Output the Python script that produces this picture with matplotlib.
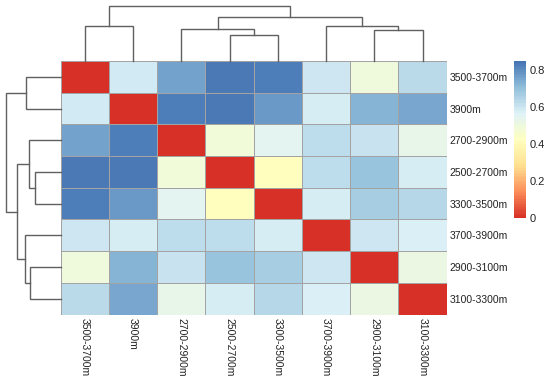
import numpy as np
import matplotlib
matplotlib.use("Agg")
import matplotlib.pyplot as plt
from matplotlib.colors import LinearSegmentedColormap, Normalize
from matplotlib.cm import ScalarMappable

plt.rcParams['font.family'] = ['Liberation Sans', 'DejaVu Sans']

# order as drawn (rows and columns share the same order)
labels = ["3500-3700m", "3900m", "2700-2900m", "2500-2700m",
          "3300-3500m", "3700-3900m", "2900-3100m", "3100-3300m"]

dist = [
    [0.00, 0.59, 0.76, 0.84, 0.83, 0.60, 0.50, 0.635],
    [0.59, 0.00, 0.826, 0.84, 0.777, 0.58, 0.723, 0.748],
    [0.76, 0.826, 0.00, 0.493, 0.544, 0.628, 0.61, 0.53],
    [0.84, 0.84, 0.493, 0.00, 0.42, 0.624, 0.695, 0.58],
    [0.83, 0.777, 0.544, 0.42, 0.00, 0.586, 0.668, 0.643],
    [0.60, 0.58, 0.628, 0.624, 0.586, 0.00, 0.60, 0.574],
    [0.50, 0.723, 0.61, 0.695, 0.668, 0.60, 0.00, 0.512],
    [0.635, 0.748, 0.53, 0.58, 0.643, 0.574, 0.512, 0.00],
]

# tree merges: (child a, child b, height); ids >= 8 are earlier merges
merges = [
    (3, 4, 0.467),      # 8
    (6, 7, 0.565),      # 9
    (2, 8, 0.578),      # 10
    (0, 1, 0.640),      # 11
    (5, 9, 0.645),      # 12
    (10, 12, 0.805),    # 13
    (11, 13, 1.000),    # 14
]

cbar_ticks = [0, 0.2, 0.4, 0.6, 0.8]
cbar_labels = ["0", "0.2", "0.4", "0.6", "0.8"]
vmin, vmax = 0.0, 0.85

pal = ["#D73027", "#FC8D59", "#FEE090", "#FFFFBF", "#E0F3F8", "#91BFDB", "#4575B4"]
cmap = LinearSegmentedColormap.from_list("rdylbu", pal, N=100)

W, H = 550, 381
fig = plt.figure(figsize=(W / 100, H / 100), dpi=100)


def fx(px):
    return px / W


def fy(py):
    return 1 - py / H


hm_l, hm_r, hm_t, hm_b = 60.7, 446.7, 61, 314.5
ax = fig.add_axes([fx(hm_l), fy(hm_b), fx(hm_r - hm_l), (hm_b - hm_t) / H])
data = np.array(dist)
n = len(labels)
ax.pcolormesh(np.arange(n + 1), np.arange(n + 1), data, cmap=cmap,
              vmin=vmin, vmax=vmax, edgecolors="#a3a3a3", linewidth=0.45)
ax.set_xlim(0, n)
ax.set_ylim(n, 0)
for s in ax.spines.values():
    s.set_visible(False)
ax.set_xticks(np.arange(n) + 0.5)
ax.set_xticklabels(labels, rotation=270, fontsize=7.5, color="#222222")
ax.set_yticks(np.arange(n) + 0.5)
ax.set_yticklabels(labels, fontsize=7.5, color="#222222")
ax.yaxis.tick_right()
ax.tick_params(axis="x", length=0, pad=2.5)
ax.tick_params(axis="y", length=0, pad=2)


def tree_lines(merges, n):
    pos = {i: i + 0.5 for i in range(n)}
    hgt = {i: 0.0 for i in range(n)}
    segs = []
    for k, (a, b, h) in enumerate(merges):
        pa, pb = pos[a], pos[b]
        segs.append(([pa, pa, pb, pb], [hgt[a], h, h, hgt[b]]))
        pos[n + k] = (pa + pb) / 2
        hgt[n + k] = h
    return segs


segs = tree_lines(merges, n)
line_kw = dict(color="#606060", lw=1.0, solid_joinstyle="miter", clip_on=False)

# column dendrogram
top_y = 6.3
axc = fig.add_axes([fx(hm_l), fy(hm_t), fx(hm_r - hm_l), (hm_t - top_y) / H])
for xs, ys in segs:
    axc.plot(xs, ys, **line_kw)
axc.set_xlim(0, n)
axc.set_ylim(0, 1.0)
axc.axis("off")

# row dendrogram
left_x = 6
axr = fig.add_axes([fx(left_x), fy(hm_b), fx(hm_l - left_x), (hm_b - hm_t) / H])
for xs, ys in segs:
    axr.plot(ys, xs, **line_kw)
axr.set_xlim(1.0, 0)
axr.set_ylim(n, 0)
axr.axis("off")

# colour key
cb_t, cb_b = 61, 218.3
cax = fig.add_axes([fx(514.3), fy(cb_b), fx(11.4), (cb_b - cb_t) / H])
cb = fig.colorbar(ScalarMappable(norm=Normalize(vmin, vmax), cmap=cmap), cax=cax)
cb.outline.set_visible(False)
cb.set_ticks(cbar_ticks)
cb.set_ticklabels(cbar_labels)
cax.tick_params(length=0, pad=3, labelsize=8, labelcolor="#222222")

fig.savefig("out.png", dpi=100)
